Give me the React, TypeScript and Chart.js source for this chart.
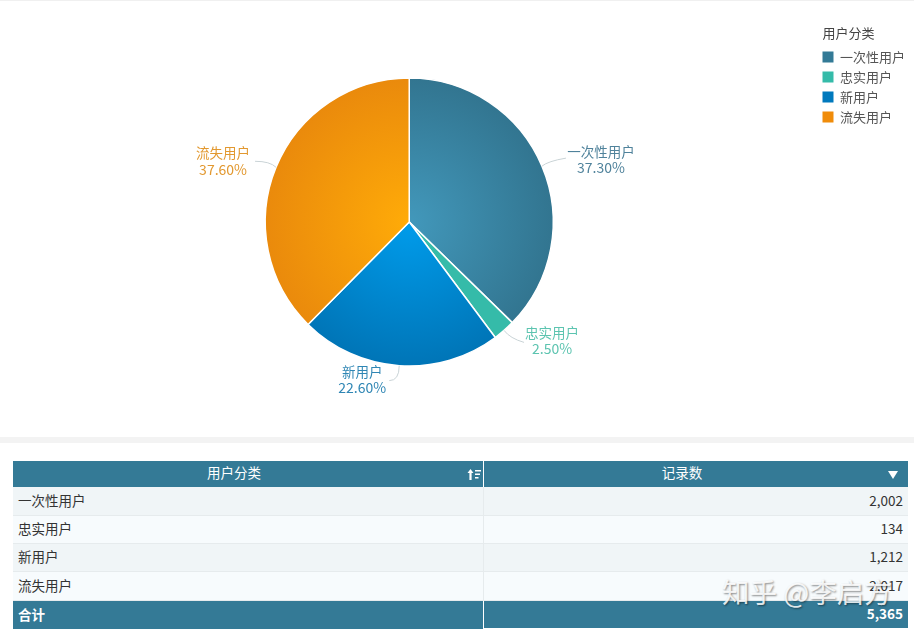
import React, { useEffect, useRef } from "react";
import { Chart, registerables } from "chart.js";

Chart.register(...registerables);

const categories = ["一次性用户", "忠实用户", "新用户", "流失用户"];
const records = [2002, 134, 1212, 2017];
const percentLabels = ["37.30%", "2.50%", "22.60%", "37.60%"];
const recordLabels = ["2,002", "134", "1,212", "2,017"];
const totalLabel = "5,365";
const legendTitle = "用户分类";

const legendColors = ["#337a96", "#35bba9", "#0079bd", "#f08c0a"];
const innerColors = ["#4298bb", "#35bba9", "#009ceb", "#ffab08"];
const outerColors = ["#327590", "#35bba9", "#0075b7", "#ea8a0c"];
const labelColors = ["#4f829b", "#5cc4b0", "#2f86b4", "#e2982f"];

const FONT = '"Noto Sans CJK SC", "Noto Sans", sans-serif';
const RADIUS = 144;
const LEGEND_PAD = 7;

// leader line end + text centre, relative to the slice's outer edge point
const leaderOffsets = [
  { c1: [6, -5], end: [24, -8], text: [59, -14] },
  { c1: [6, 8], end: [20, 12], text: [48, 2] },
  { c1: [0, 15], end: [-10, 15], text: [-37, 6] },
  { c1: [-6, -6], end: [-21, -6], text: [-53, -14] },
];

const sliceLabels = {
  id: "sliceLabels",
  afterDatasetsDraw(chart: Chart) {
    const { ctx } = chart;
    chart.getDatasetMeta(0).data.forEach((arc: any, i: number) => {
      const { x, y, startAngle, endAngle, outerRadius } = arc.getProps(
        ["x", "y", "startAngle", "endAngle", "outerRadius"],
        true,
      );
      const mid = (startAngle + endAngle) / 2;
      const px = x + Math.cos(mid) * outerRadius;
      const py = y + Math.sin(mid) * outerRadius;
      const o = leaderOffsets[i];

      ctx.save();
      ctx.strokeStyle = "#c9d3d6";
      ctx.lineWidth = 1;
      ctx.beginPath();
      ctx.moveTo(px, py);
      ctx.quadraticCurveTo(px + o.c1[0], py + o.c1[1], px + o.end[0], py + o.end[1]);
      ctx.stroke();

      ctx.fillStyle = labelColors[i];
      ctx.textAlign = "center";
      ctx.textBaseline = "middle";
      ctx.font = `13.5px ${FONT}`;
      ctx.fillText(categories[i], px + o.text[0], py + o.text[1]);
      ctx.font = `14px ${FONT}`;
      ctx.fillText(percentLabels[i], px + o.text[0], py + o.text[1] + 16);
      ctx.restore();
    });
  },
  // the built-in legend title ignores the label padding, so it is drawn here in line with the swatches
  afterDraw(chart: any) {
    const { ctx, legend } = chart;
    ctx.save();
    ctx.fillStyle = "#444";
    ctx.font = `13px ${FONT}`;
    ctx.textAlign = "left";
    ctx.textBaseline = "middle";
    ctx.fillText(legendTitle, legend.left + LEGEND_PAD, legend.top + 33);
    ctx.restore();
  },
};

function sliceFill(context: any) {
  const i = context.dataIndex;
  const area = context.chart.chartArea;
  if (!area) return legendColors[i];
  const cx = (area.left + area.right) / 2;
  const cy = (area.top + area.bottom) / 2;
  const g = context.chart.ctx.createRadialGradient(cx, cy, 0, cx, cy, RADIUS);
  g.addColorStop(0, innerColors[i]);
  g.addColorStop(1, outerColors[i]);
  return g;
}

const cellBase: React.CSSProperties = {
  position: "absolute",
  boxSizing: "border-box",
  display: "flex",
  alignItems: "center",
  fontSize: 13.5,
  overflow: "hidden",
};

function Cell(props: {
  x: number;
  y: number;
  w: number;
  h: number;
  bg: string;
  color?: string;
  bold?: boolean;
  align?: "flex-start" | "center" | "flex-end";
  padding?: string;
  children?: React.ReactNode;
}) {
  return (
    <div
      style={{
        ...cellBase,
        left: props.x,
        top: props.y,
        width: props.w,
        height: props.h,
        background: props.bg,
        color: props.color ?? "#333",
        fontWeight: props.bold ? 700 : 400,
        justifyContent: props.align ?? "flex-start",
        padding: props.padding ?? "0 5px 3px",
      }}
    >
      {props.children}
    </div>
  );
}

const rowTops = [487, 516, 544, 572];
const rowHeights = [29, 28, 28, 29];
const rowBgs = ["#f0f5f7", "#f7fbfd", "#f0f5f7", "#f7fbfd"];
const HEADER = "#347a96";

export default function App() {
  const canvasRef = useRef<HTMLCanvasElement | null>(null);

  useEffect(() => {
    if (!canvasRef.current) return;
    const chart = new Chart(canvasRef.current, {
      type: "pie",
      data: {
        labels: categories,
        datasets: [
          {
            data: records,
            backgroundColor: sliceFill,
            borderColor: "#ffffff",
            borderWidth: 1.5,
            radius: RADIUS,
          },
        ],
      },
      options: {
        responsive: false,
        animation: false,
        layout: { padding: { left: 3, right: -1 } },
        plugins: {
          tooltip: { enabled: false },
          legend: {
            position: "right",
            align: "start",
            title: {
              display: true,
              text: legendTitle,
              position: "start",
              color: "transparent",
              font: { family: FONT, size: 13 },
              padding: { top: 26, bottom: 2 },
            },
            labels: {
              boxWidth: 11,
              boxHeight: 11,
              padding: LEGEND_PAD,
              color: "#555",
              font: { family: FONT, size: 13 },
              generateLabels: () =>
                categories.map((text, i) => ({
                  text,
                  fillStyle: legendColors[i],
                  strokeStyle: legendColors[i],
                  fontColor: "#555",
                  lineWidth: 0,
                  index: i,
                })),
            },
          },
        },
      },
      plugins: [sliceLabels],
    });
    return () => chart.destroy();
  }, []);

  return (
    <div
      style={{
        position: "fixed",
        left: 0,
        top: 0,
        width: 914,
        height: 632,
        background: "#fff",
        overflow: "hidden",
        fontFamily: FONT,
      }}
    >
      <div style={{ position: "absolute", left: 0, top: 0, width: 914, height: 1, background: "#f0f0f0" }} />
      <div style={{ position: "absolute", left: 0, top: 437, width: 914, height: 6, background: "#f3f3f3" }} />
      <canvas ref={canvasRef} width={914} height={444} style={{ position: "absolute", left: 0, top: 0 }} />

      <div style={{ position: "absolute", left: 13, top: 487, width: 895, height: 114, background: "#e6ebed" }} />

      <Cell x={13} y={461} w={470} h={26} bg={HEADER} color="#fff" align="center" padding="0 28px 4px 0">
        用户分类
        <svg width="14" height="13" style={{ position: "absolute", right: 2, top: 7 }}>
          <path d="M3.5 1 L6.5 5 H4.6 V12 H2.4 V5 H0.5 Z M8 2 H14 V3.6 H8 Z M8 5.5 H13 V7.1 H8 Z M8 9 H11.5 V10.6 H8 Z" fill="#fff" />
        </svg>
      </Cell>
      <Cell x={484} y={461} w={424} h={26} bg={HEADER} color="#fff" align="center" padding="0 28px 4px 0">
        记录数
        <svg width="11" height="8" style={{ position: "absolute", right: 9, top: 10 }}>
          <path d="M0 0 H10 L5 8 Z" fill="#fff" />
        </svg>
      </Cell>

      {categories.map((name, i) => (
        <React.Fragment key={name}>
          <Cell x={13} y={rowTops[i]} w={470} h={rowHeights[i] - 1} bg={rowBgs[i]}>
            {name}
          </Cell>
          <Cell x={484} y={rowTops[i]} w={424} h={rowHeights[i] - 1} bg={rowBgs[i]} align="flex-end">
            {recordLabels[i]}
          </Cell>
        </React.Fragment>
      ))}

      <Cell x={13} y={601} w={470} h={28} bg={HEADER} color="#fff" bold>
        合计
      </Cell>
      <Cell x={484} y={601} w={424} h={27} bg={HEADER} color="#fff" bold align="flex-end">
        {totalLabel}
      </Cell>

      <div
        style={{
          position: "absolute",
          left: 722,
          top: 575,
          fontSize: 27.5,
          lineHeight: "32px",
          whiteSpace: "nowrap",
          color: "rgba(255,255,255,0.85)",
          textShadow: "1px 1px 2px rgba(0,0,0,0.45)",
        }}
      >
        知乎 @李启方
      </div>
    </div>
  );
}
